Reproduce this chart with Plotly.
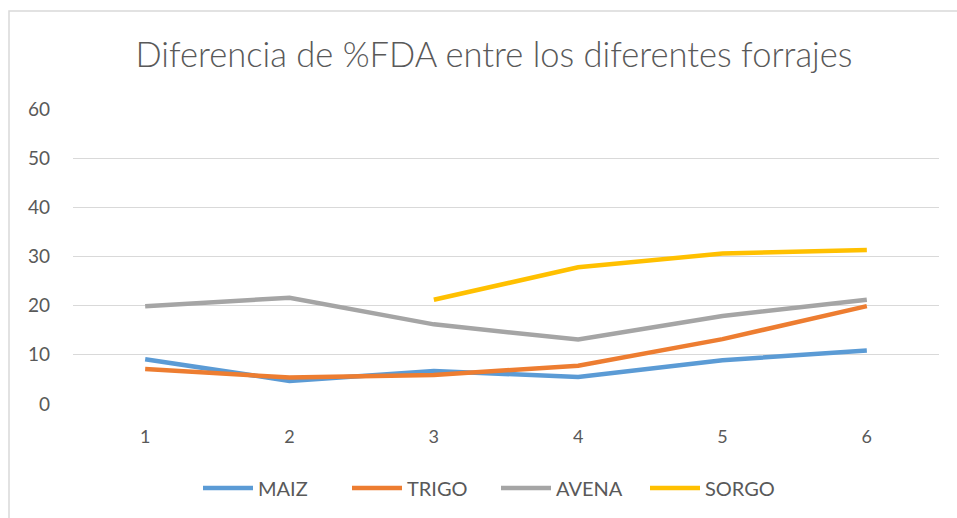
import plotly.graph_objects as go

categories = [1, 2, 3, 4, 5, 6]
maiz = [9.1, 4.7, 6.7, 5.5, 8.9, 10.9]
trigo = [7.1, 5.4, 5.9, 7.8, 13.2, 19.9]
avena = [19.9, 21.6, 16.2, 13.1, 17.9, 21.2]
sorgo = [None, None, 21.2, 27.8, 30.6, 31.3]
y_ticks = [0, 10, 20, 30, 40, 50, 60]

series = [("MAIZ", maiz, "#5B9BD5"), ("TRIGO", trigo, "#ED7D31"),
          ("AVENA", avena, "#A5A5A5"), ("SORGO", sorgo, "#FFC000")]

fig = go.Figure()
for name, vals, col in series:
    fig.add_trace(go.Scatter(x=categories, y=vals, name=name, mode="lines",
                             line=dict(color=col, width=4.5), connectgaps=False))

font_family = "Lato, Open Sans, sans-serif"
fig.update_layout(
    width=957, height=518,
    margin=dict(l=73, r=18, t=109, b=114, autoexpand=False),
    paper_bgcolor="white", plot_bgcolor="white",
    title=dict(text="Diferencia de %FDA entre los diferentes forrajes",
               x=494 / 957, xref="container", xanchor="center", y=1 - 55 / 518, yanchor="middle",
               font=dict(family=font_family, size=34.5, color="#595959", weight=300)),
    font=dict(family=font_family, size=17, color="#595959"),
    showlegend=True,
    legend=dict(orientation="h", x=(496 - 73) / 866, xanchor="center",
                y=-0.285, yanchor="middle",
                font=dict(size=20, color="#595959"), itemwidth=50,
                entrywidth=84, entrywidthmode="pixels",
                tracegroupgap=0),
    xaxis=dict(range=[0.5, 6.5], tickvals=categories, ticktext=[str(c) for c in categories],
               showgrid=False, zeroline=False, showline=False, ticks="",
               tickfont=dict(size=18),
               ticklabelstandoff=20, fixedrange=True),
    yaxis=dict(range=[0, 60], tickvals=y_ticks, showgrid=True, gridcolor="#D9D9D9",
               gridwidth=1.3, zeroline=False, showline=False, ticks="",
               tickfont=dict(size=19),
               ticklabelstandoff=22, fixedrange=True),
)
fig.add_shape(type="rect", xref="paper", yref="paper",
              x0=(9 - 73) / 866, x1=(965 - 73) / 866,
              y0=(404 - 530) / 295, y1=(404 - 11) / 295,
              line=dict(color="#D9D9D9", width=1.5), fillcolor="rgba(0,0,0,0)", layer="below")
fig.write_html("out.html", config={"displayModeBar": False})

with open("out.html", "r", encoding="utf-8") as f:
    html = f.read()
html = html.replace("<head>", "<head><style>html,body{margin:0;padding:0;overflow:hidden;}</style>", 1)
with open("out.html", "w", encoding="utf-8") as f:
    f.write(html)
